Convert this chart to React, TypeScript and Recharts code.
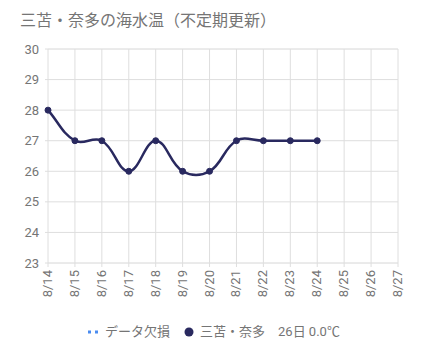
import React from "react";
import { LineChart, Line, XAxis, YAxis, CartesianGrid } from "recharts";

const days = ["8/14", "8/15", "8/16", "8/17", "8/18", "8/19", "8/20", "8/21", "8/22", "8/23", "8/24", "8/25", "8/26", "8/27"];
const temps = [28, 27, 27, 26, 27, 26, 26, 27, 27, 27, 27, null, null, null];
const missing = [null, null, null, null, null, null, null, null, null, null, null, null, null, null];
const yTicks = [23, 24, 25, 26, 27, 28, 29, 30];
const yMinorTicks = [23.5, 24.5, 25.5, 26.5, 27.5, 28.5, 29.5];

const data = days.map((d, i) => ({ day: d, temp: temps[i], missing: missing[i] }));

const FONT = "Roboto, 'Noto Sans CJK JP', sans-serif";
const NAVY = "#29295f";
const GRAY = "#757575";

// chart.js style bezier (tension 0.4)
const splineCurve = (context: any) => {
  let pts: number[][] = [];
  return {
    areaStart() {},
    areaEnd() {},
    lineStart() {
      pts = [];
    },
    point(x: number, y: number) {
      pts.push([+x, +y]);
    },
    lineEnd() {
      const n = pts.length;
      if (!n) return;
      context.moveTo(pts[0][0], pts[0][1]);
      const t = 0.4;
      const cps = pts.map((p, i) => {
        const prev = pts[Math.max(i - 1, 0)];
        const next = pts[Math.min(i + 1, n - 1)];
        const d01 = Math.hypot(p[0] - prev[0], p[1] - prev[1]);
        const d12 = Math.hypot(next[0] - p[0], next[1] - p[1]);
        let s01 = d01 / (d01 + d12);
        let s12 = d12 / (d01 + d12);
        if (isNaN(s01)) s01 = 0;
        if (isNaN(s12)) s12 = 0;
        const fa = t * s01;
        const fb = t * s12;
        const dx = next[0] - prev[0];
        const dy = next[1] - prev[1];
        return {
          px: p[0] - fa * dx,
          py: p[1] - fa * dy,
          nx: p[0] + fb * dx,
          ny: p[1] + fb * dy,
        };
      });
      for (let i = 1; i < n; i++) {
        context.bezierCurveTo(cps[i - 1].nx, cps[i - 1].ny, cps[i].px, cps[i].py, pts[i][0], pts[i][1]);
      }
    },
  };
};

const XTick = (props: any) => {
  const { x, y, payload } = props;
  return (
    <g transform={`translate(${x},${y + 1})`}>
      <text transform="rotate(-90)" textAnchor="end" dy={4} fill={GRAY} fontSize={13} fontFamily={FONT}>
        {payload.value}
      </text>
    </g>
  );
};

const App = () => {
  return (
    <div style={{ position: "absolute", left: 0, top: 0, width: 423, height: 358, fontFamily: FONT, background: "#fff" }}>
      <div style={{ position: "absolute", left: 20, top: 10, fontSize: 16, color: GRAY, lineHeight: "22px" }}>
        三苫・奈多の海水温（不定期更新）
      </div>
      <LineChart width={423} height={358} data={data} margin={{ top: 49, right: 25, left: 0, bottom: 0 }}>
        <CartesianGrid yAxisId="minor" vertical={false} stroke="#f0f0f0" />
        <CartesianGrid yAxisId="main" stroke="#dedede" />
        <XAxis
          dataKey="day"
          height={95}
          interval={0}
          tick={<XTick />}
          tickSize={4}
          tickLine={{ stroke: "#dedede" }}
          axisLine={false}
        />
        <YAxis
          yAxisId="main"
          width={48}
          domain={[23, 30]}
          ticks={yTicks}
          tickSize={3}
          tickMargin={6}
          tickLine={{ stroke: "#dedede" }}
          axisLine={false}
          tick={{ fill: GRAY, fontSize: 13, fontFamily: FONT }}
        />
        <YAxis yAxisId="minor" hide domain={[23, 30]} ticks={yMinorTicks} />
        <Line
          yAxisId="main"
          dataKey="missing"
          type={splineCurve as any}
          stroke="#4a8cf0"
          strokeWidth={3}
          strokeDasharray="3 3"
          dot={false}
          isAnimationActive={false}
        />
        <Line
          yAxisId="main"
          dataKey="temp"
          type={splineCurve as any}
          stroke={NAVY}
          strokeWidth={2.5}
          dot={{ r: 3, fill: NAVY, stroke: NAVY, strokeWidth: 1 }}
          activeDot={false}
          isAnimationActive={false}
        />
      </LineChart>
      <div
        style={{
          position: "absolute",
          left: 88,
          top: 323,
          display: "flex",
          alignItems: "center",
          fontSize: 13,
          color: GRAY,
          lineHeight: "18px",
          whiteSpace: "nowrap",
        }}
      >
        <svg width={10} height={6} style={{ marginRight: 7 }}>
          <line x1={0} y1={3} x2={10} y2={3} stroke="#4a8cf0" strokeWidth={3} strokeDasharray="3 4" />
        </svg>
        <span>データ欠損</span>
        <svg width={10} height={10} style={{ marginLeft: 14, marginRight: 6 }}>
          <circle cx={5} cy={5} r={4.5} fill={NAVY} />
        </svg>
        <span>三苫・奈多</span>
        <span style={{ marginLeft: 13 }}>26日 0.0℃</span>
      </div>
    </div>
  );
};

export default App;
